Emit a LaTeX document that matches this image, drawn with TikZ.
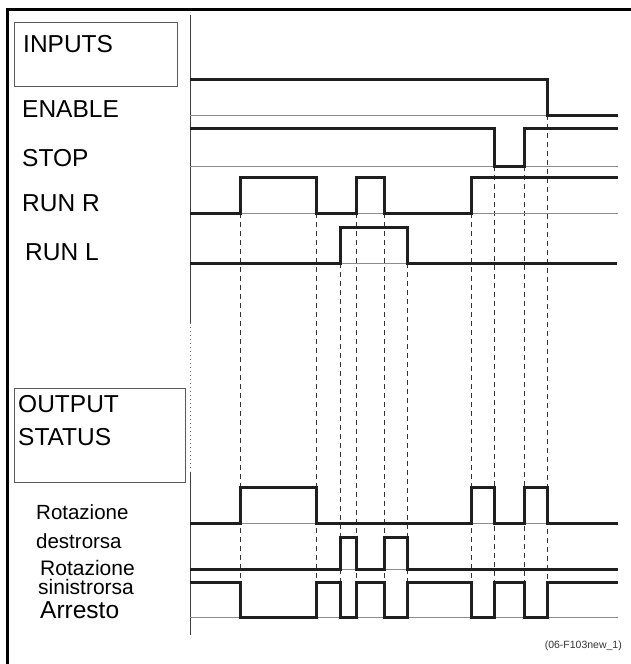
\documentclass[tikz,border=0pt]{standalone}
\usepackage{fontspec}
\setmainfont{Liberation Sans}
\begin{document}
\begin{tikzpicture}[x=1pt,y=-1pt,
  sig/.style={line width=3pt,draw=black!88,line join=miter},
  base/.style={line width=0.9pt,draw=black!45},
  guide/.style={line width=0.9pt,draw=black!80,dash pattern=on 5pt off 4pt},
  box/.style={line width=1pt,draw=black!65},
  lab/.style={anchor=base west,inner sep=0pt,font=\fontsize{24.5}{24.5}\selectfont},
  slab/.style={anchor=base west,inner sep=0pt,font=\fontsize{20.5}{20.5}\selectfont},
  foot/.style={anchor=base east,inner sep=0pt,font=\fontsize{10.5}{10.5}\selectfont,text=black!80}]
\useasboundingbox (0,0) rectangle (631,664);
% frame
\draw[line width=3pt,black] (7.5,664) -- (7.5,9) -- (631,9);
% boxes
\draw[box] (14,22) rectangle (177,86);
\draw[box] (14,388) rectangle (185,482);
% axis
\draw[line width=1pt,black!75] (190,15) -- (190,323);
\draw[line width=1pt,black!60,dash pattern=on 1pt off 3pt] (190,323) -- (190,471);
\draw[line width=1pt,black!75] (190,472) -- (190,635);
% labels
\node[lab] (tin) at (23,52) {INPUTS};
\node[lab] (ten) at (22,117) {ENABLE};
\node[lab] (tst) at (22,166) {STOP};
\node[lab] (trr) at (22,211) {RUN R};
\node[lab] (trl) at (25,260) {RUN L};
\node[lab] (tout) at (18,412) {OUTPUT};
\node[lab] (tsta) at (18,445) {STATUS};
\node[slab] (trd1) at (36,519) {Rotazione};
\node[slab] (trd2) at (36,548) {destrorsa};
\node[slab,font=\fontsize{21}{21}\selectfont] (trs1) at (40,575) {Rotazione};
\node[slab,font=\fontsize{21}{21}\selectfont] (trs2) at (38,594.8) {sinistrorsa};
\node[lab,font=\fontsize{24.5}{24.5}\selectfont] (tarr) at (40,618.5) {Arresto};
\node[foot] (tfoot) at (622,648) {(06-F103new\_1)};
% guides
\foreach \x/\y in {240/213,316/213,340/263,356/213,384/213,407/263,471/213,494/166,524/166,547/115}
  \draw[guide] (\x,\y) -- (\x,581);
% baselines
\draw[base] (190,115) -- (547,115);
\draw[base] (190,166) -- (618,166);
\draw[base] (190,213) -- (618,213);
\draw[base] (190,263) -- (617,263);
\draw[base] (190,523) -- (618,523);
\draw[base] (190,569) -- (618,569);
\draw[base] (190,617) -- (618,617);
% input signals
\draw[sig] (190,79) -- (547,79) -- (547,115) -- (618,115);
\draw[sig] (190,128) -- (494,128) -- (494,166) -- (524,166) -- (524,128) -- (618,128);
\draw[sig] (190,213) -- (240,213) -- (240,177) -- (316,177) -- (316,213) -- (356,213) -- (356,177) -- (384,177) -- (384,213) -- (471,213) -- (471,177) -- (618,177);
\draw[sig] (190,263) -- (340,263) -- (340,227) -- (407,227) -- (407,263) -- (617,263);
% output signals
\draw[sig] (190,523) -- (240,523) -- (240,487) -- (316,487) -- (316,523) -- (471,523) -- (471,487) -- (494,487) -- (494,523) -- (524,523) -- (524,487) -- (547,487) -- (547,523) -- (618,523);
\draw[sig] (190,569) -- (340,569) -- (340,537) -- (356,537) -- (356,569) -- (384,569) -- (384,537) -- (407,537) -- (407,569) -- (618,569);
\draw[sig] (190,582) -- (240,582) -- (240,617) -- (316,617) -- (316,582) -- (340,582) -- (340,617) -- (356,617) -- (356,582) -- (384,582) -- (384,617) -- (407,617) -- (407,582) -- (471,582) -- (471,617) -- (494,617) -- (494,582) -- (524,582) -- (524,617) -- (547,617) -- (547,582) -- (618,582);
\end{tikzpicture}
\end{document}
